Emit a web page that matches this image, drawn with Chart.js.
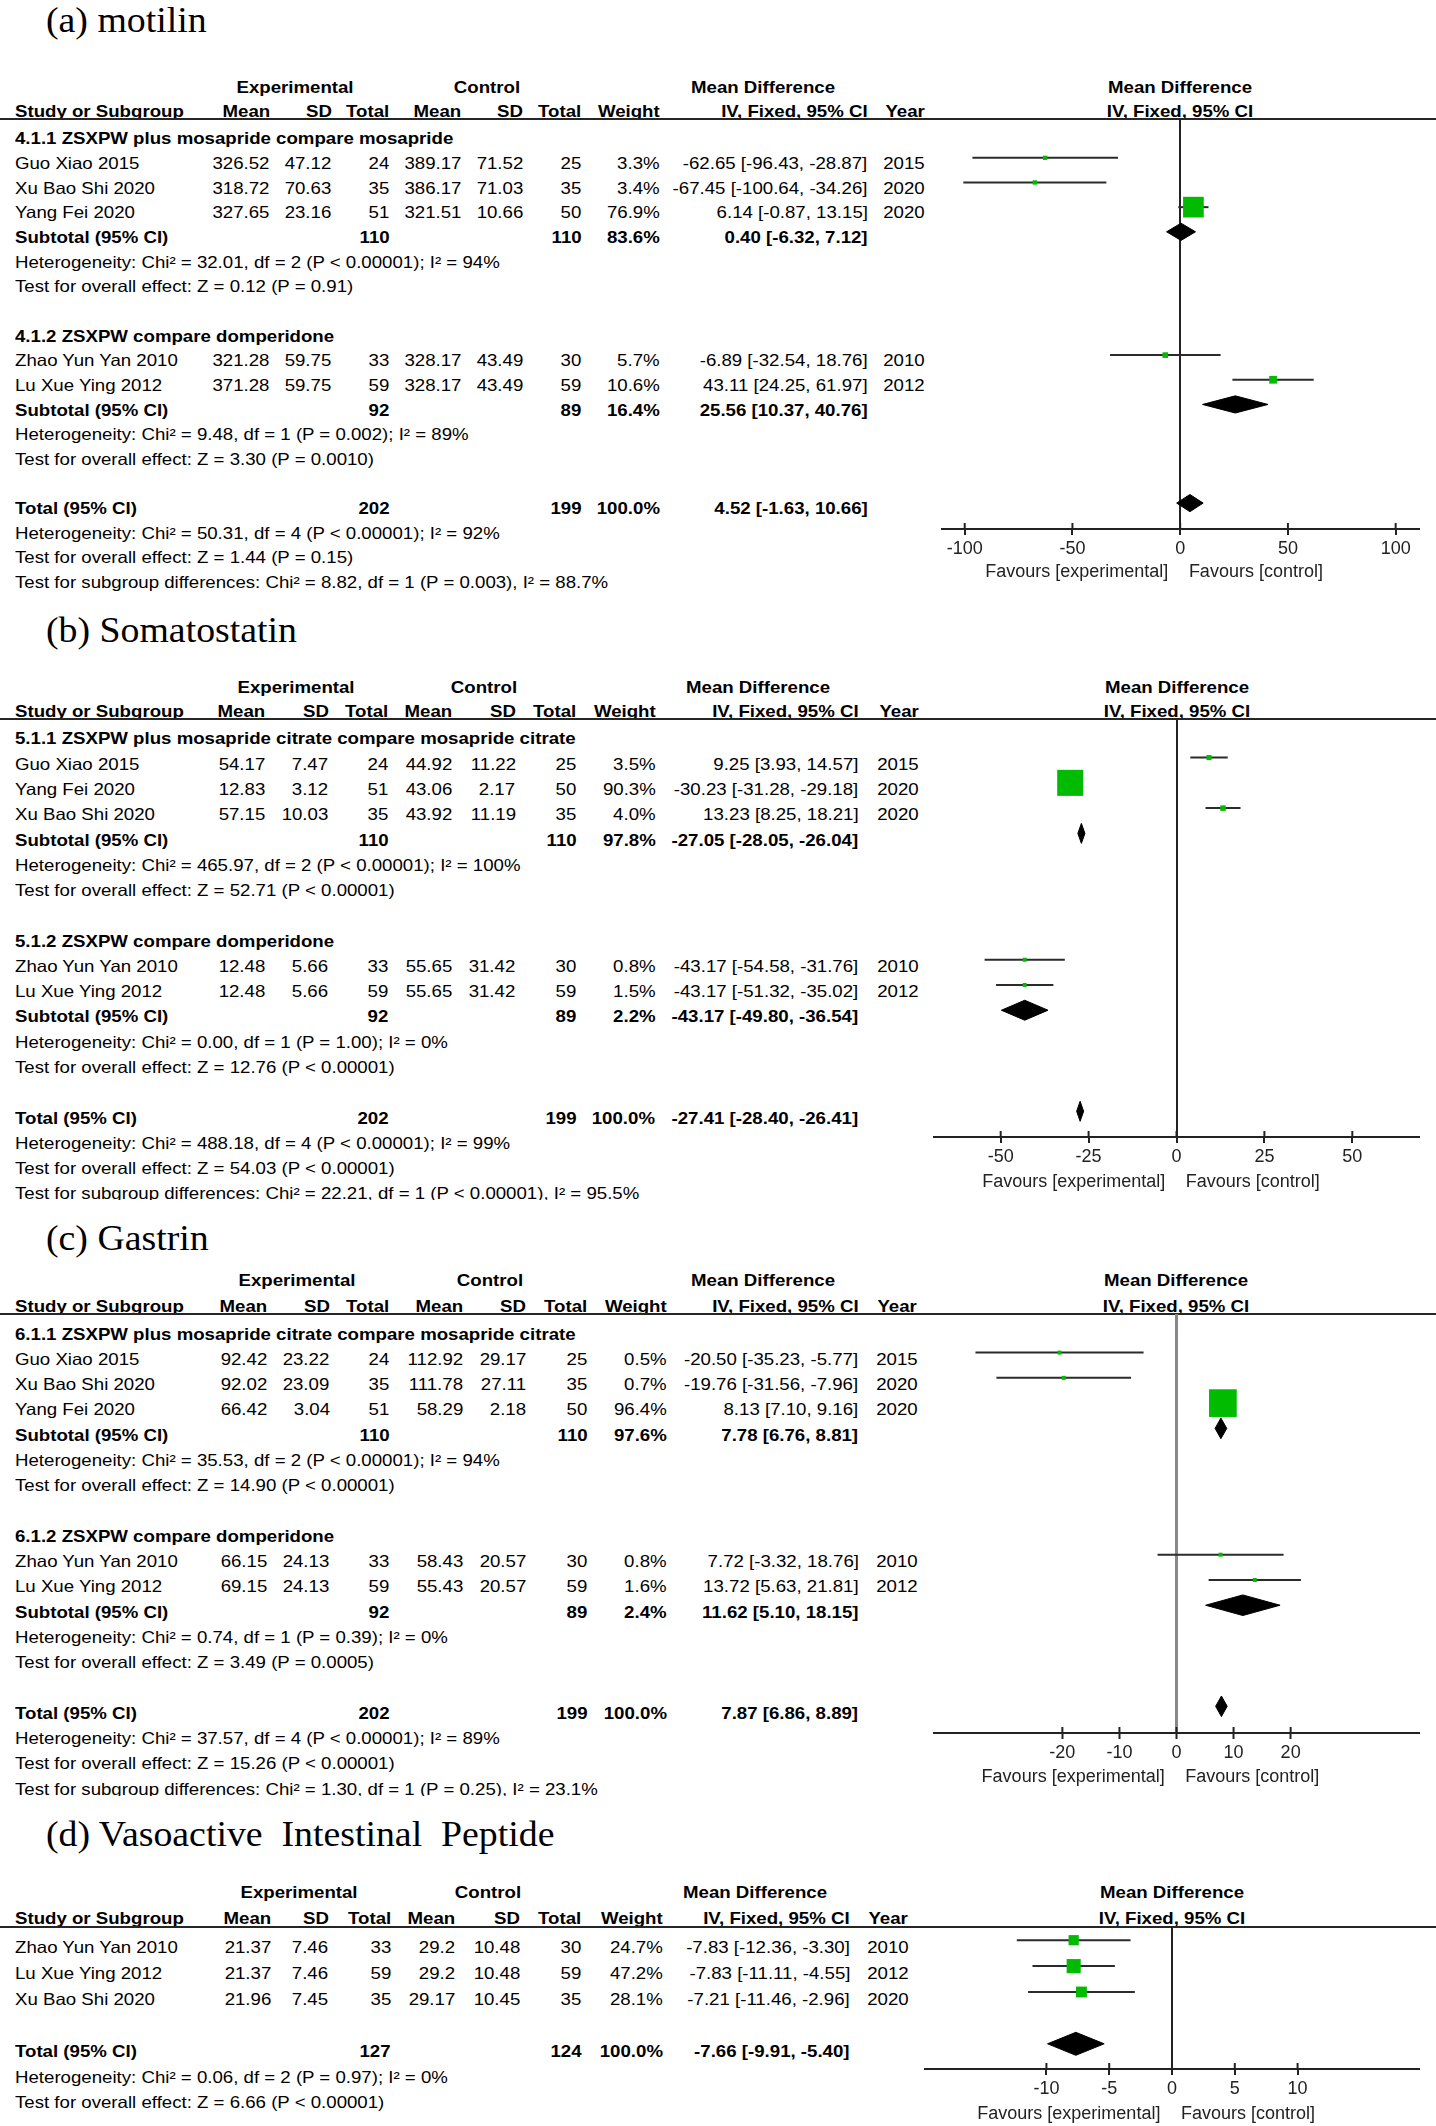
<!DOCTYPE html>
<html>
<head>
<meta charset="utf-8">
<script src="https://cdn.jsdelivr.net/npm/chart.js@4.4.1/dist/chart.umd.min.js"></script>
<style>
  body { margin: 0; background: #fff; width: 1436px; height: 2126px; position: relative; overflow: hidden;
         font-family: "Liberation Sans", Arial, sans-serif; color: #000; }
  .panel { position: absolute; left: 0; width: 1436px; overflow: hidden; }
  .anchor { position: absolute; width: 0; height: 0; }
  .anchor span { position: absolute; white-space: pre; line-height: 1; }
  .rule { position: absolute; left: 0; width: 1436px; height: 2px; }
  canvas { position: absolute; }
</style>
</head>
<body>
<script>
// ---- (a) motilin ----
const motilinStudies = ['Guo Xiao 2015', 'Xu Bao Shi 2020', 'Yang Fei 2020', 'Zhao Yun Yan 2010', 'Lu Xue Ying 2012'];
const motilinGroupOf = [0, 0, 0, 1, 1];
const motilinExp = [[326.52, 47.12, 24], [318.72, 70.63, 35], [327.65, 23.16, 51], [321.28, 59.75, 33], [371.28, 59.75, 59]];
const motilinCtl = [[389.17, 71.52, 25], [386.17, 71.03, 35], [321.51, 10.66, 50], [328.17, 43.49, 30], [328.17, 43.49, 59]];
const motilinWeight = [3.3, 3.4, 76.9, 5.7, 10.6];
const motilinMD = [-62.65, -67.45, 6.14, -6.89, 43.11];
const motilinLow = [-96.43, -100.64, -0.87, -32.54, 24.25];
const motilinHigh = [-28.87, -34.26, 13.15, 18.76, 61.97];
const motilinYear = [2015, 2020, 2020, 2010, 2012];
const motilinGroups = ['4.1.1 ZSXPW plus mosapride compare mosapride', '4.1.2 ZSXPW compare domperidone'];
// subtotal: exp total, ctl total, weight, MD, low, high
const motilinSub = [[110, 110, 83.6, 0.40, -6.32, 7.12], [92, 89, 16.4, 25.56, 10.37, 40.76]];
const motilinSubNotes = [
  ['Heterogeneity: Chi² = 32.01, df = 2 (P < 0.00001); I² = 94%', 'Test for overall effect: Z = 0.12 (P = 0.91)'],
  ['Heterogeneity: Chi² = 9.48, df = 1 (P = 0.002); I² = 89%', 'Test for overall effect: Z = 3.30 (P = 0.0010)']
];
const motilinTotal = [202, 199, 100.0, 4.52, -1.63, 10.66];
const motilinTotalNotes = ['Heterogeneity: Chi² = 50.31, df = 4 (P < 0.00001); I² = 92%',
  'Test for overall effect: Z = 1.44 (P = 0.15)',
  'Test for subgroup differences: Chi² = 8.82, df = 1 (P = 0.003), I² = 88.7%'];
const motilinTicks = [-100, -50, 0, 50, 100];

// ---- (b) somatostatin ----
const somaStudies = ['Guo Xiao 2015', 'Yang Fei 2020', 'Xu Bao Shi 2020', 'Zhao Yun Yan 2010', 'Lu Xue Ying 2012'];
const somaGroupOf = [0, 0, 0, 1, 1];
const somaExp = [[54.17, 7.47, 24], [12.83, 3.12, 51], [57.15, 10.03, 35], [12.48, 5.66, 33], [12.48, 5.66, 59]];
const somaCtl = [[44.92, 11.22, 25], [43.06, 2.17, 50], [43.92, 11.19, 35], [55.65, 31.42, 30], [55.65, 31.42, 59]];
const somaWeight = [3.5, 90.3, 4.0, 0.8, 1.5];
const somaMD = [9.25, -30.23, 13.23, -43.17, -43.17];
const somaLow = [3.93, -31.28, 8.25, -54.58, -51.32];
const somaHigh = [14.57, -29.18, 18.21, -31.76, -35.02];
const somaYear = [2015, 2020, 2020, 2010, 2012];
const somaGroups = ['5.1.1 ZSXPW plus mosapride citrate compare mosapride citrate', '5.1.2 ZSXPW compare domperidone'];
const somaSub = [[110, 110, 97.8, -27.05, -28.05, -26.04], [92, 89, 2.2, -43.17, -49.80, -36.54]];
const somaSubNotes = [
  ['Heterogeneity: Chi² = 465.97, df = 2 (P < 0.00001); I² = 100%', 'Test for overall effect: Z = 52.71 (P < 0.00001)'],
  ['Heterogeneity: Chi² = 0.00, df = 1 (P = 1.00); I² = 0%', 'Test for overall effect: Z = 12.76 (P < 0.00001)']
];
const somaTotal = [202, 199, 100.0, -27.41, -28.40, -26.41];
const somaTotalNotes = ['Heterogeneity: Chi² = 488.18, df = 4 (P < 0.00001); I² = 99%',
  'Test for overall effect: Z = 54.03 (P < 0.00001)',
  'Test for subgroup differences: Chi² = 22.21, df = 1 (P < 0.00001), I² = 95.5%'];
const somaTicks = [-50, -25, 0, 25, 50];

// ---- (c) gastrin ----
const gastrinStudies = ['Guo Xiao 2015', 'Xu Bao Shi 2020', 'Yang Fei 2020', 'Zhao Yun Yan 2010', 'Lu Xue Ying 2012'];
const gastrinGroupOf = [0, 0, 0, 1, 1];
const gastrinExp = [[92.42, 23.22, 24], [92.02, 23.09, 35], [66.42, 3.04, 51], [66.15, 24.13, 33], [69.15, 24.13, 59]];
const gastrinCtl = [[112.92, 29.17, 25], [111.78, 27.11, 35], [58.29, 2.18, 50], [58.43, 20.57, 30], [55.43, 20.57, 59]];
const gastrinWeight = [0.5, 0.7, 96.4, 0.8, 1.6];
const gastrinMD = [-20.50, -19.76, 8.13, 7.72, 13.72];
const gastrinLow = [-35.23, -31.56, 7.10, -3.32, 5.63];
const gastrinHigh = [-5.77, -7.96, 9.16, 18.76, 21.81];
const gastrinYear = [2015, 2020, 2020, 2010, 2012];
const gastrinGroups = ['6.1.1 ZSXPW plus mosapride citrate compare mosapride citrate', '6.1.2 ZSXPW compare domperidone'];
const gastrinSub = [[110, 110, 97.6, 7.78, 6.76, 8.81], [92, 89, 2.4, 11.62, 5.10, 18.15]];
const gastrinSubNotes = [
  ['Heterogeneity: Chi² = 35.53, df = 2 (P < 0.00001); I² = 94%', 'Test for overall effect: Z = 14.90 (P < 0.00001)'],
  ['Heterogeneity: Chi² = 0.74, df = 1 (P = 0.39); I² = 0%', 'Test for overall effect: Z = 3.49 (P = 0.0005)']
];
const gastrinTotal = [202, 199, 100.0, 7.87, 6.86, 8.89];
const gastrinTotalNotes = ['Heterogeneity: Chi² = 37.57, df = 4 (P < 0.00001); I² = 89%',
  'Test for overall effect: Z = 15.26 (P < 0.00001)',
  'Test for subgroup differences: Chi² = 1.30, df = 1 (P = 0.25), I² = 23.1%'];
const gastrinTicks = [-20, -10, 0, 10, 20];

// ---- (d) vasoactive intestinal peptide ----
const vipStudies = ['Zhao Yun Yan 2010', 'Lu Xue Ying 2012', 'Xu Bao Shi 2020'];
const vipExp = [[21.37, 7.46, 33], [21.37, 7.46, 59], [21.96, 7.45, 35]];
const vipCtl = [[29.2, 10.48, 30], [29.2, 10.48, 59], [29.17, 10.45, 35]];
const vipWeight = [24.7, 47.2, 28.1];
const vipMD = [-7.83, -7.83, -7.21];
const vipLow = [-12.36, -11.11, -11.46];
const vipHigh = [-3.30, -4.55, -2.96];
const vipYear = [2010, 2012, 2020];
const vipTotal = [127, 124, 100.0, -7.66, -9.91, -5.40];
const vipTotalNotes = ['Heterogeneity: Chi² = 0.06, df = 2 (P = 0.97); I² = 0%',
  'Test for overall effect: Z = 6.66 (P < 0.00001)'];
const vipTicks = [-10, -5, 0, 5, 10];

const SANS = '"Liberation Sans", Arial, sans-serif';
const SERIF = '"Liberation Serif", "Times New Roman", serif';

// page layout of each panel (pixels)
const panels = [
  { title: '(a) motilin', top0: 0, clip: 591, titleY: 20, hdr1Y: 86.9, hdr2Y: 111, lineY: 118.5,
    r0: 163.3, step: 24.65, markDy: -6, axisY: 528.3, favY: 571.4,
    cols: [269.8, 331.5, 389.7, 461.6, 522.8, 581.5, 659.5, 867.5, 925], groupCols: [295, 487.4, 763],
    plotL: 940.7, plotR: 1420, xMin: -111, xMax: 111.3, sq: 2.36, dia: 8.6, zeroColor: '#222', zeroW: 2,
    data: { studies: motilinStudies, groupOf: motilinGroupOf, exp: motilinExp, ctl: motilinCtl, weight: motilinWeight,
            md: motilinMD, low: motilinLow, high: motilinHigh, year: motilinYear, groups: motilinGroups,
            sub: motilinSub, subNotes: motilinSubNotes, total: motilinTotal, totalNotes: motilinTotalNotes, ticks: motilinTicks } },
  { title: '(b) Somatostatin', top0: 595, clip: 1200, titleY: 630.5, hdr1Y: 686.9, hdr2Y: 711, lineY: 719.2,
    r0: 764, step: 25.27, markDy: -6.2, axisY: 1137.3, favY: 1180.7,
    cols: [265, 328.5, 388.5, 452.6, 515.6, 576.7, 655.3, 858.5, 918.5], groupCols: [296, 483.8, 758],
    plotL: 933.3, plotR: 1420, xMin: -69.25, xMax: 69.25, sq: 2.74, dia: 10, zeroColor: '#222', zeroW: 2,
    data: { studies: somaStudies, groupOf: somaGroupOf, exp: somaExp, ctl: somaCtl, weight: somaWeight,
            md: somaMD, low: somaLow, high: somaHigh, year: somaYear, groups: somaGroups,
            sub: somaSub, subNotes: somaSubNotes, total: somaTotal, totalNotes: somaTotalNotes, ticks: somaTicks } },
  { title: '(c) Gastrin', top0: 1205, clip: 1796, titleY: 1238, hdr1Y: 1280.7, hdr2Y: 1305.8, lineY: 1314,
    r0: 1359.2, step: 25.27, markDy: -6.6, axisY: 1733.1, favY: 1775.5,
    cols: [266.8, 329.7, 389.7, 462.8, 526.4, 587.5, 666.7, 858.5, 917.3], groupCols: [297.4, 489.8, 763],
    plotL: 932.7, plotR: 1420, xMin: -42.67, xMax: 42.67, sq: 2.82, dia: 10.3, zeroColor: '#888', zeroW: 3,
    data: { studies: gastrinStudies, groupOf: gastrinGroupOf, exp: gastrinExp, ctl: gastrinCtl, weight: gastrinWeight,
            md: gastrinMD, low: gastrinLow, high: gastrinHigh, year: gastrinYear, groups: gastrinGroups,
            sub: gastrinSub, subNotes: gastrinSubNotes, total: gastrinTotal, totalNotes: gastrinTotalNotes, ticks: gastrinTicks } },
  { title: '(d) Vasoactive  Intestinal  Peptide', top0: 1805, clip: 2126, titleY: 1834, hdr1Y: 1892.7, hdr2Y: 1918.7, lineY: 1927.3,
    r0: 1947.3, step: 25.9, markDy: -6.8, axisY: 2069.3, favY: 2113.3,
    cols: [271.6, 328.5, 390.9, 455.6, 520.4, 581.5, 663, 850, 908.3], groupCols: [298.9, 488, 755.4],
    plotL: 923.9, plotR: 1419.7, xMin: -19.75, xMax: 19.75, sq: 2.05, dia: 11.5, zeroColor: '#222', zeroW: 2,
    data: { studies: vipStudies, groupOf: null, exp: vipExp, ctl: vipCtl, weight: vipWeight,
            md: vipMD, low: vipLow, high: vipHigh, year: vipYear, groups: [],
            sub: null, subNotes: null, total: vipTotal, totalNotes: vipTotalNotes, ticks: vipTicks } }
];

// text helper: x is the anchor (left / right / centre), y the visual centre line
function put(P, str, x, y, o = {}) {
  const size = o.size || 16.5, k = o.k === undefined ? 1.13 : o.k, align = o.align || 'left';
  const a = document.createElement('div');
  a.className = 'anchor';
  a.style.left = x + 'px';
  a.style.top = (y - P.top0) + 'px';
  const s = document.createElement('span');
  s.textContent = str;
  s.style.fontSize = size + 'px';
  s.style.top = (-size / 2) + 'px';
  s.style.fontFamily = o.font || SANS;
  if (o.bold) s.style.fontWeight = 'bold';
  if (o.color) s.style.color = o.color;
  if (align === 'left') {
    s.style.left = '0'; s.style.transformOrigin = 'left center'; s.style.transform = 'scaleX(' + k + ')';
  } else if (align === 'right') {
    s.style.right = '0'; s.style.transformOrigin = 'right center'; s.style.transform = 'scaleX(' + k + ')';
  } else {
    s.style.left = '0'; s.style.transform = 'translateX(-50%) scaleX(' + k + ')';
  }
  a.appendChild(s);
  P.el.appendChild(a);
}

const ciText = (md, lo, hi) => md.toFixed(2) + ' [' + lo.toFixed(2) + ', ' + hi.toFixed(2) + ']';

// tick marks in RevMan cross the axis line, Chart.js only draws the lower half
const upperTicks = {
  id: 'upperTicks',
  afterDraw(chart) {
    const sx = chart.scales.x, ctx = chart.ctx, yb = chart.chartArea.bottom;
    ctx.save();
    ctx.strokeStyle = '#222';
    ctx.lineWidth = 2;
    sx.ticks.forEach(t => {
      const px = sx.getPixelForValue(t.value);
      ctx.beginPath();
      ctx.moveTo(px, yb - 6);
      ctx.lineTo(px, yb);
      ctx.stroke();
    });
    ctx.restore();
  }
};

function buildPanel(L) {
  const D = L.data;
  const el = document.createElement('div');
  el.className = 'panel';
  el.style.top = L.top0 + 'px';
  el.style.height = (L.clip - L.top0) + 'px';
  document.body.appendChild(el);
  const P = { el, top0: L.top0 };
  const c = L.cols;

  put(P, L.title, 46, L.titleY, { font: SERIF, size: 35, k: 1.08 });

  // table headers
  put(P, 'Experimental', L.groupCols[0], L.hdr1Y, { align: 'center', bold: true });
  put(P, 'Control', L.groupCols[1], L.hdr1Y, { align: 'center', bold: true });
  put(P, 'Mean Difference', L.groupCols[2], L.hdr1Y, { align: 'center', bold: true });
  put(P, 'Study or Subgroup', 15, L.hdr2Y, { bold: true });
  ['Mean', 'SD', 'Total', 'Mean', 'SD', 'Total', 'Weight', 'IV, Fixed, 95% CI', 'Year'].forEach((s, i) =>
    put(P, s, c[i], L.hdr2Y, { align: 'right', bold: true }));
  const plotMid = (L.plotL + L.plotR) / 2;
  put(P, 'Mean Difference', plotMid, L.hdr1Y, { align: 'center', bold: true });
  put(P, 'IV, Fixed, 95% CI', plotMid, L.hdr2Y, { align: 'center', bold: true });

  const rule = document.createElement('div');
  rule.className = 'rule';
  rule.style.top = (L.lineY - 1 - L.top0) + 'px';
  rule.style.background = '#262626';
  el.appendChild(rule);

  // table rows
  const rowY = r => L.r0 + r * L.step;
  const studyRow = [];
  const summaries = [];
  const nGroups = Math.max(D.groups.length, 1);
  let r = D.groups.length ? -1 : 0;
  for (let g = 0; g < nGroups; g++) {
    if (D.groups.length) { put(P, D.groups[g], 15, rowY(r), { bold: true }); r++; }
    D.studies.forEach((name, i) => {
      if ((D.groupOf ? D.groupOf[i] : 0) !== g) return;
      studyRow[i] = r;
      const y = rowY(r);
      put(P, name, 15, y);
      const vals = D.exp[i].concat(D.ctl[i]);
      vals.forEach((v, j) => put(P, String(v), c[j], y, { align: 'right' }));
      put(P, D.weight[i].toFixed(1) + '%', c[6], y, { align: 'right' });
      put(P, ciText(D.md[i], D.low[i], D.high[i]), c[7], y, { align: 'right' });
      put(P, String(D.year[i]), c[8], y, { align: 'right' });
      r++;
    });
    if (D.sub) {
      const s = D.sub[g];
      const y = rowY(r);
      put(P, 'Subtotal (95% CI)', 15, y, { bold: true });
      put(P, String(s[0]), c[2], y, { align: 'right', bold: true });
      put(P, String(s[1]), c[5], y, { align: 'right', bold: true });
      put(P, s[2].toFixed(1) + '%', c[6], y, { align: 'right', bold: true });
      put(P, ciText(s[3], s[4], s[5]), c[7], y, { align: 'right', bold: true });
      summaries.push({ row: r, md: s[3], lo: s[4], hi: s[5] });
      r++;
      D.subNotes[g].forEach(t => { put(P, t, 15, rowY(r)); r++; });
    }
    r++; // blank row
  }
  const t = D.total;
  put(P, 'Total (95% CI)', 15, rowY(r), { bold: true });
  put(P, String(t[0]), c[2], rowY(r), { align: 'right', bold: true });
  put(P, String(t[1]), c[5], rowY(r), { align: 'right', bold: true });
  put(P, t[2].toFixed(1) + '%', c[6], rowY(r), { align: 'right', bold: true });
  put(P, ciText(t[3], t[4], t[5]), c[7], rowY(r), { align: 'right', bold: true });
  summaries.push({ row: r, md: t[3], lo: t[4], hi: t[5] });
  r++;
  D.totalNotes.forEach(n => { put(P, n, 15, rowY(r)); r++; });

  // forest plot
  const axisBox = 44;
  const canvas = document.createElement('canvas');
  const w = Math.round(L.plotR - L.plotL);
  const h = Math.round(L.axisY - L.lineY + axisBox);
  canvas.width = w; canvas.height = h;
  canvas.style.left = L.plotL + 'px';
  canvas.style.top = (L.lineY - L.top0) + 'px';
  el.appendChild(canvas);

  const markR0 = L.r0 + L.markDy;
  const yMin = (L.lineY - markR0) / L.step;
  const yMax = (L.axisY - markR0) / L.step;
  const halfDia = L.dia / L.step;

  const datasets = [];
  datasets.push({
    data: D.md.map((m, i) => ({ x: m, y: studyRow[i] })),
    showLine: false,
    pointStyle: 'rect',
    pointRadius: D.weight.map(wt => Math.max(4, L.sq * Math.sqrt(wt)) / Math.SQRT2),
    backgroundColor: '#00bb00',
    borderWidth: 0
  });
  D.md.forEach((m, i) => datasets.push({
    data: [{ x: D.low[i], y: studyRow[i] }, { x: D.high[i], y: studyRow[i] }],
    showLine: true, borderColor: '#2b2b2b', borderWidth: 2, pointRadius: 0
  }));
  summaries.forEach(s => datasets.push({
    data: [{ x: s.lo, y: s.row }, { x: s.md, y: s.row - halfDia }, { x: s.hi, y: s.row },
           { x: s.md, y: s.row + halfDia }, { x: s.lo, y: s.row }],
    showLine: true, fill: 'shape', backgroundColor: '#000', borderColor: '#000', borderWidth: 1, pointRadius: 0
  }));

  const chart = new Chart(canvas, {
    type: 'scatter',
    data: { datasets },
    plugins: [upperTicks],
    options: {
      responsive: false,
      animation: false,
      events: [],
      layout: { padding: 0, autoPadding: false },
      plugins: { legend: { display: false }, tooltip: { enabled: false } },
      scales: {
        x: {
          type: 'linear', min: L.xMin, max: L.xMax,
          afterBuildTicks: s => { s.ticks = D.ticks.map(v => ({ value: v })); },
          afterFit: s => { s.height = axisBox; },
          ticks: { autoSkip: false, maxRotation: 0, padding: 3, color: '#222',
                   font: { family: SANS, size: 18 }, callback: v => String(v) },
          grid: {
            color: ctx => (ctx.tick && ctx.tick.value === 0) ? L.zeroColor : 'rgba(0,0,0,0)',
            lineWidth: L.zeroW, tickColor: '#222', tickLength: 6, tickWidth: 2
          },
          border: { display: true, color: '#222', width: 2 }
        },
        y: { type: 'linear', display: false, reverse: true, min: yMin, max: yMax }
      }
    }
  });

  const zeroX = L.plotL + chart.scales.x.getPixelForValue(0);
  put(P, 'Favours [experimental]', zeroX - 11.5, L.favY, { align: 'right', size: 18, k: 1, color: '#222' });
  put(P, 'Favours [control]', zeroX + 9, L.favY, { size: 18, k: 1, color: '#222' });
}

panels.forEach(buildPanel);
</script>
</body>
</html>
